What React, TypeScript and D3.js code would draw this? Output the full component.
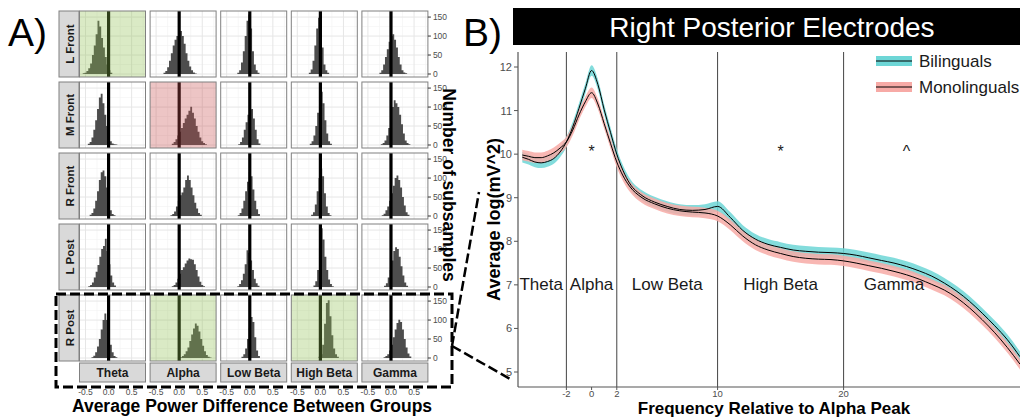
import React from "react";
import * as d3 from "d3";

// ---- Panel A data: bootstrap histograms (start value, counts per 0.04 bin)
const rowLabels = ["L Front", "M Front", "R Front", "L Post", "R Post"];
const bandNames = ["Theta", "Alpha", "Low Beta", "High Beta", "Gamma"];
const binWidth = 0.04;

const lFrontHists: [number, number[]][] = [
  [-0.56, [2, 3, 8, 15, 28, 50, 75, 105, 140, 125, 95, 70, 45, 25, 10, 3]],
  [-0.34, [3, 8, 18, 35, 55, 75, 90, 100, 108, 113, 100, 80, 55, 35, 20, 10, 4, 1]],
  [-0.27, [3, 10, 30, 60, 100, 140, 157, 120, 60, 25, 10, 3]],
  [-0.25, [3, 12, 35, 75, 120, 148, 130, 70, 25, 10, 3]],
  [-0.25, [3, 10, 25, 45, 65, 85, 100, 105, 90, 70, 45, 25, 10, 4, 2]],
];
const mFrontHists: [number, number[]][] = [
  [-0.45, [3, 8, 20, 40, 65, 95, 125, 135, 110, 80, 50, 25, 10, 4, 2, 1]],
  [-0.16, [3, 8, 15, 25, 35, 45, 58, 70, 80, 90, 101, 85, 70, 50, 35, 20, 10, 5, 2]],
  [-0.25, [2, 8, 20, 40, 60, 80, 92, 95, 70, 40, 15, 4]],
  [-0.23, [3, 10, 25, 50, 85, 120, 140, 110, 65, 30, 10, 3]],
  [-0.22, [2, 5, 12, 25, 45, 70, 100, 118, 110, 100, 80, 55, 30, 12, 5, 2]],
];
const rFrontHists: [number, number[]][] = [
  [-0.41, [3, 8, 20, 40, 65, 95, 115, 120, 105, 75, 40, 15, 5, 2]],
  [-0.19, [2, 5, 12, 25, 40, 55, 62, 75, 95, 107, 95, 75, 55, 35, 20, 8, 3]],
  [-0.26, [2, 8, 20, 40, 65, 90, 116, 105, 70, 40, 18, 5]],
  [-0.2, [3, 10, 30, 65, 100, 125, 105, 60, 25, 8, 2]],
  [-0.2, [2, 6, 15, 25, 40, 60, 80, 100, 107, 95, 75, 50, 28, 10, 3]],
];
const lPostHists: [number, number[]][] = [
  [-0.44, [2, 5, 12, 25, 40, 58, 80, 100, 108, 127, 95, 60, 30, 12, 4]],
  [-0.16, [2, 5, 12, 22, 35, 45, 52, 62, 70, 75, 73, 72, 60, 45, 28, 14, 5, 2]],
  [-0.27, [2, 8, 18, 35, 60, 97, 90, 70, 45, 22, 10, 3]],
  [-0.15, [4, 15, 45, 100, 155, 125, 80, 45, 20, 8, 2]],
  [-0.15, [3, 10, 25, 45, 70, 95, 105, 100, 80, 55, 30, 12, 3]],
];
const rPostHists: [number, number[]][] = [
  [-0.37, [2, 6, 15, 30, 50, 75, 100, 117, 100, 70, 35, 15, 5, 2]],
  [0.02, [2, 5, 10, 18, 28, 45, 62, 78, 91, 85, 70, 50, 32, 18, 8, 3, 1]],
  [-0.18, [3, 10, 25, 50, 80, 108, 95, 55, 20, 5]],
  [-0.04, [3, 10, 35, 90, 145, 152, 110, 60, 25, 10, 3]],
  [-0.16, [2, 5, 10, 20, 35, 55, 75, 92, 101, 95, 75, 50, 28, 12, 4]],
];
const allHists = [lFrontHists, mFrontHists, rFrontHists, lPostHists, rPostHists];

const highlights = [
  { row: 0, col: 0, color: "#8fbf4f" },
  { row: 1, col: 1, color: "#c85050" },
  { row: 4, col: 1, color: "#8fbf4f" },
  { row: 4, col: 3, color: "#8fbf4f" },
];
const histXTicks = [-0.5, 0, 0.5];
const histXMinor = [-0.25, 0.25, 0.75];
const histYTicks = [0, 50, 100, 150];
const histYMinor = [25, 75, 125];

// ---- Panel B data: spectra relative to alpha peak
const freqs = [
  -5.5, -5, -4.5, -4, -3.5, -3, -2.5, -2, -1.5, -1, -0.5, 0, 0.5, 1, 1.5, 2, 2.5, 3,
  4, 5, 6, 7, 8, 9, 10, 11, 12, 13, 14, 15, 16, 17, 18, 19, 20, 21, 22, 23, 24, 25,
  26, 27, 28, 29, 30, 31, 32, 33, 34,
];
const bilingual = [
  9.93, 9.88, 9.82, 9.8, 9.83, 9.9, 10.05, 10.28, 10.62, 11.05, 11.5, 11.92, 11.6,
  11.02, 10.5, 10.0, 9.62, 9.34, 9.05, 8.9, 8.8, 8.73, 8.71, 8.73, 8.8, 8.55, 8.25,
  8.05, 7.93, 7.86, 7.8, 7.77, 7.75, 7.74, 7.72, 7.68, 7.62, 7.56, 7.5, 7.42, 7.32,
  7.2, 7.04, 6.85, 6.62, 6.35, 6.06, 5.74, 5.35,
];
const monolingual = [
  9.98, 9.95, 9.92, 9.92, 9.96, 10.03, 10.14, 10.28, 10.55, 10.9, 11.2, 11.41, 11.15,
  10.7, 10.25, 9.82, 9.5, 9.27, 9.0, 8.86, 8.76, 8.7, 8.67, 8.65, 8.58, 8.38, 8.12,
  7.92, 7.8, 7.72, 7.65, 7.61, 7.59, 7.58, 7.55, 7.5, 7.44, 7.38, 7.31, 7.23, 7.13,
  7.01, 6.88, 6.7, 6.47, 6.2, 5.9, 5.56, 5.18,
];
const bandHalfWidth = 0.12;
const bandEdges = [-2, 2, 10, 20];
const bandLabels = [
  { name: "Theta", at: -4 },
  { name: "Alpha", at: 0 },
  { name: "Low Beta", at: 6 },
  { name: "High Beta", at: 15 },
  { name: "Gamma", at: 24 },
];
const markers = [
  { sym: "*", at: 0 },
  { sym: "*", at: 15 },
  { sym: "^", at: 25 },
];
const specYTicks = [5, 6, 7, 8, 9, 10, 11, 12];
const specXTicks = [-2, 0, 2, 10, 20];
const groups = [
  { name: "Bilinguals", values: bilingual, fill: "#6dd6d6" },
  { name: "Monolinguals", values: monolingual, fill: "#f7aaa6" },
];

const FONT = "'Liberation Sans', Arial, sans-serif";

const HistPanel = ({ x0, y0, hist, hl }: any) => {
  const w = 66;
  const h = 66;
  const xs = d3.scaleLinear().domain([-0.63, 0.8]).range([0, w]);
  const ys = d3.scaleLinear().domain([-7.9, 166]).range([h, 0]);
  const [start, counts] = hist;
  // step outline so the bars join without hairline gaps
  const pts = [...counts, 0].map((c: number, i: number) => [start + i * binWidth, c]);
  const step = d3
    .area<number[]>()
    .x((d) => xs(d[0]))
    .y0(ys(0))
    .y1((d) => ys(d[1]))
    .curve(d3.curveStepAfter);
  return (
    <g transform={`translate(${x0},${y0})`}>
      <rect width={w} height={h} fill="#fff" />
      {histXMinor.map((t) => (
        <line key={"xm" + t} x1={xs(t)} x2={xs(t)} y1={0} y2={h} stroke="#f2f2f2" strokeWidth={0.6} />
      ))}
      {histYMinor.map((t) => (
        <line key={"ym" + t} x1={0} x2={w} y1={ys(t)} y2={ys(t)} stroke="#f2f2f2" strokeWidth={0.6} />
      ))}
      {histXTicks.map((t) => (
        <line key={"x" + t} x1={xs(t)} x2={xs(t)} y1={0} y2={h} stroke="#e6e6e6" strokeWidth={1} />
      ))}
      {histYTicks.map((t) => (
        <line key={"y" + t} x1={0} x2={w} y1={ys(t)} y2={ys(t)} stroke="#e6e6e6" strokeWidth={1} />
      ))}
      <path d={step(pts) || ""} fill="#4d4d4d" />
      <line x1={xs(0)} x2={xs(0)} y1={0} y2={h} stroke="#000" strokeWidth={3.2} />
      {hl && <rect width={w} height={h} fill={hl} opacity={0.33} />}
      <rect width={w} height={h} fill="none" stroke="#808080" strokeWidth={1} />
    </g>
  );
};

export default function App() {
  const colX = (c: number) => 79.5 + c * 70.6;
  const rowY = (r: number) => 11 + r * 71;
  const axisYs = d3.scaleLinear().domain([-7.9, 166]).range([66, 0]);
  const histTickX = d3.scaleLinear().domain([-0.63, 0.8]).range([0, 66]);

  // panel B scales
  const xs = d3.scaleLinear().domain([-5.84, 34.0]).range([518, 1020]);
  const ys = d3.scaleLinear().domain([5, 12]).range([372, 67]);
  const line = d3
    .line<number>()
    .x((_, i) => xs(freqs[i]))
    .y((d) => ys(d))
    .curve(d3.curveMonotoneX);
  const area = d3
    .area<number>()
    .x((_, i) => xs(freqs[i]))
    .y0((d) => ys(d - bandHalfWidth))
    .y1((d) => ys(d + bandHalfWidth))
    .curve(d3.curveMonotoneX);

  return (
    <svg
      width={1020}
      height={417}
      style={{ position: "absolute", left: 0, top: 0, background: "#fff" }}
      fontFamily={FONT}
    >
      <rect width={1020} height={417} fill="#fff" />
      {/* ---------- Panel A ---------- */}
      <text x={8} y={46} fontSize={39}>A)</text>
      {allHists.map((row, r) => (
        <g key={r}>
          <rect x={59} y={rowY(r)} width={20} height={66} fill="#d9d9d9" stroke="#808080" />
          <text
            transform={`translate(${69.5},${rowY(r) + 33}) rotate(-90)`}
            textAnchor="middle"
            dominantBaseline="central"
            fontSize={11.5}
            fontWeight="bold"
            fill="#1a1a1a"
          >
            {rowLabels[r]}
          </text>
          {row.map((hist, c) => {
            const hl = highlights.find((h) => h.row === r && h.col === c);
            return <HistPanel key={c} x0={colX(c)} y0={rowY(r)} hist={hist} hl={hl ? hl.color : null} />;
          })}
          {histYTicks.map((t) => (
            <g key={t}>
              <line
                x1={colX(4) + 66}
                x2={colX(4) + 69}
                y1={rowY(r) + axisYs(t)}
                y2={rowY(r) + axisYs(t)}
                stroke="#333"
              />
              <text
                x={colX(4) + 71}
                y={rowY(r) + axisYs(t)}
                dominantBaseline="central"
                fontSize={8.5}
                fill="#4d4d4d"
              >
                {t}
              </text>
            </g>
          ))}
        </g>
      ))}
      {bandNames.map((b, c) => (
        <g key={b}>
          <rect x={colX(c)} y={363} width={66} height={19} fill="#d9d9d9" stroke="#808080" />
          <text
            x={colX(c) + 33}
            y={373}
            textAnchor="middle"
            dominantBaseline="central"
            fontSize={12}
            fontWeight="bold"
            fill="#1a1a1a"
          >
            {b}
          </text>
          {histXTicks.map((t) => (
            <text
              key={t}
              x={colX(c) + histTickX(t)}
              y={392}
              textAnchor="middle"
              dominantBaseline="central"
              fontSize={8.5}
              fill="#4d4d4d"
            >
              {t.toFixed(1)}
            </text>
          ))}
        </g>
      ))}
      <text
        transform="translate(449,185) rotate(90)"
        textAnchor="middle"
        dominantBaseline="central"
        fontSize={17.5}
        fontWeight="bold"
      >
        Number of subsamples
      </text>
      <text x={252} y={412} textAnchor="middle" fontSize={17.5} fontWeight="bold">
        Average Power Difference Between Groups
      </text>
      {/* dashed highlight box and connectors */}
      <rect x={56} y={294} width={396} height={93} fill="none" stroke="#000" strokeWidth={3} strokeDasharray="10,4" />
      <line x1={452} y1={346} x2={479} y2={192} stroke="#000" strokeWidth={2.5} strokeDasharray="10,4" />
      <line x1={452} y1={346} x2={512} y2={380} stroke="#000" strokeWidth={2.5} strokeDasharray="10,4" />

      {/* ---------- Panel B ---------- */}
      <text x={463} y={46} fontSize={39}>B)</text>
      <rect x={513} y={8} width={520} height={37} fill="#000" />
      <text x={772} y={27} textAnchor="middle" dominantBaseline="central" fontSize={28} fill="#fff">
        Right Posterior Electrodes
      </text>
      <defs>
        <clipPath id="plotB">
          <rect x={518} y={52} width={510} height={335} />
        </clipPath>
      </defs>
      {bandEdges.map((e) => (
        <line key={e} x1={xs(e)} x2={xs(e)} y1={52} y2={387} stroke="#444" strokeWidth={1} />
      ))}
      <g clipPath="url(#plotB)">
        {groups.map((g) => (
          <path key={g.name + "a"} d={area(g.values) || ""} fill={g.fill} opacity={0.85} />
        ))}
        {groups.map((g) => (
          <path key={g.name + "l"} d={line(g.values) || ""} fill="none" stroke="#000" strokeWidth={1} />
        ))}
      </g>
      <line x1={518} x2={518} y1={52} y2={387} stroke="#555" strokeWidth={1.2} />
      <line x1={518} x2={1020} y1={387} y2={387} stroke="#555" strokeWidth={1.2} />
      {specYTicks.map((t) => (
        <g key={t}>
          <line x1={514} x2={518} y1={ys(t)} y2={ys(t)} stroke="#555" />
          <text x={512} y={ys(t)} textAnchor="end" dominantBaseline="central" fontSize={11} fill="#4d4d4d">
            {t}
          </text>
        </g>
      ))}
      {specXTicks.map((t) => (
        <g key={t}>
          <line x1={xs(t)} x2={xs(t)} y1={387} y2={390} stroke="#555" />
          <text x={xs(t)} y={393.5} textAnchor="middle" dominantBaseline="central" fontSize={9.5} fill="#4d4d4d">
            {t}
          </text>
        </g>
      ))}
      {bandLabels.map((b) => (
        <text key={b.name} x={xs(b.at)} y={ys(7)} textAnchor="middle" dominantBaseline="central" fontSize={17} fill="#1a1a1a">
          {b.name}
        </text>
      ))}
      {markers.map((m, i) => (
        <text key={i} x={xs(m.at)} y={ys(10.05)} textAnchor="middle" dominantBaseline="central" fontSize={16} fill="#1a1a1a">
          {m.sym}
        </text>
      ))}
      {groups.map((g, i) => (
        <g key={g.name} transform={`translate(876,${61 + i * 26})`}>
          <rect x={0} y={-5} width={36} height={10} fill={g.fill} />
          <line x1={0} x2={36} y1={0} y2={0} stroke="#000" strokeWidth={1} />
          <text x={43} y={0} dominantBaseline="central" fontSize={17} fill="#1a1a1a">
            {g.name}
          </text>
        </g>
      ))}
      <text
        transform={`translate(494,${ys(8.5)}) rotate(-90)`}
        textAnchor="middle"
        dominantBaseline="central"
        fontSize={18}
        fontWeight="bold"
      >
        Average log(mV^2)
      </text>
      <text x={774} y={413.5} textAnchor="middle" fontSize={17} fontWeight="bold">
        Frequency Relative to Alpha Peak
      </text>
    </svg>
  );
}
